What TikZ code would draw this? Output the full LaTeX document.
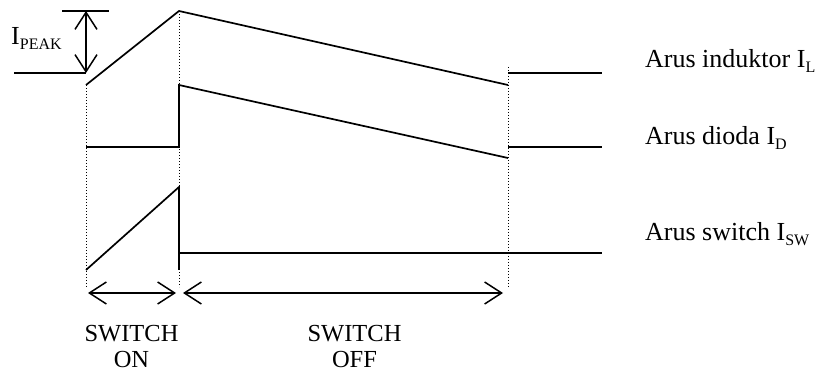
\documentclass[tikz,border=0pt]{standalone}
\usepackage{fontspec}
\setmainfont{Liberation Serif}
\usetikzlibrary{arrows.meta}
\newcommand{\subtx}[1]{\raisebox{-5pt}{\fontsize{16}{16}\selectfont #1}}
\begin{document}
\begin{tikzpicture}[x=1pt,y=-1pt,
  wave/.style={line width=1.7pt, line join=miter},
  guide/.style={line width=0.9pt, dash pattern=on 0.9pt off 2.1pt},
  dimarrow/.style={line width=1.5pt, {Straight Barb[length=17pt,width=22pt]}-{Straight Barb[length=17pt,width=22pt]}},
  lbl/.style={font=\fontsize{26}{28}\selectfont, anchor=base west, inner sep=0pt},
  phase/.style={font=\fontsize{24.5}{27}\selectfont, align=center, anchor=base, inner sep=0pt}
]
\useasboundingbox (0,0) rectangle (823,374);
% guides
\draw[guide] (86,85) -- (86,287);
\draw[guide] (179,11) -- (179,287);
\draw[guide] (508,67) -- (508,287);
% inductor current
\coordinate (l0) at (14,73);
\coordinate (l1) at (86,73);
\coordinate (l2) at (86,85);
\coordinate (l3) at (179,11);
\coordinate (l4) at (508,85);
\coordinate (l5) at (508,73);
\coordinate (l6) at (602,73);
\draw[wave] (l0) -- (l1);
\draw[wave] (l2) -- (l3) -- (l4);
\draw[wave] (l5) -- (l6);
% peak marker
\coordinate (p0) at (62,11);
\coordinate (p1) at (109,11);
\coordinate (pa) at (86,11);
\draw[wave] (p0) -- (p1);
\draw[dimarrow] (pa) -- (l1);
\node[lbl] (ipeak) at (11,45) {I\subtx{PEAK}};
% diode current
\coordinate (d0) at (86,147);
\coordinate (d1) at (179,147);
\coordinate (d2) at (179,85);
\coordinate (d3) at (508,158);
\coordinate (d4) at (508,147);
\coordinate (d5) at (602,147);
\draw[wave] (d0) -- (d1) -- (d2) -- (d3);
\draw[wave] (d4) -- (d5);
% switch current
\coordinate (s0) at (86,270);
\coordinate (s1) at (179,187);
\coordinate (s2) at (179,270);
\coordinate (s3) at (179,253);
\coordinate (s4) at (602,253);
\draw[wave] (s0) -- (s1) -- (s2);
\draw[wave] (s3) -- (s4);
% labels
\node[lbl] (lbL) at (645,68) {Arus induktor I\subtx{L}};
\node[lbl] (lbD) at (645,145) {Arus dioda I\subtx{D}};
\node[lbl] (lbS) at (645,241) {Arus switch I\subtx{SW}};
% phase arrows
\coordinate (on0) at (88,293);
\coordinate (on1) at (176,293);
\coordinate (off0) at (183,293);
\coordinate (off1) at (503,293);
\draw[dimarrow] (on0) -- (on1);
\draw[dimarrow] (off0) -- (off1);
\node[phase] (ton) at (131.5,368) {SWITCH\\ON};
\node[phase] (toff) at (354.5,368) {SWITCH\\OFF};
\end{tikzpicture}
\end{document}
